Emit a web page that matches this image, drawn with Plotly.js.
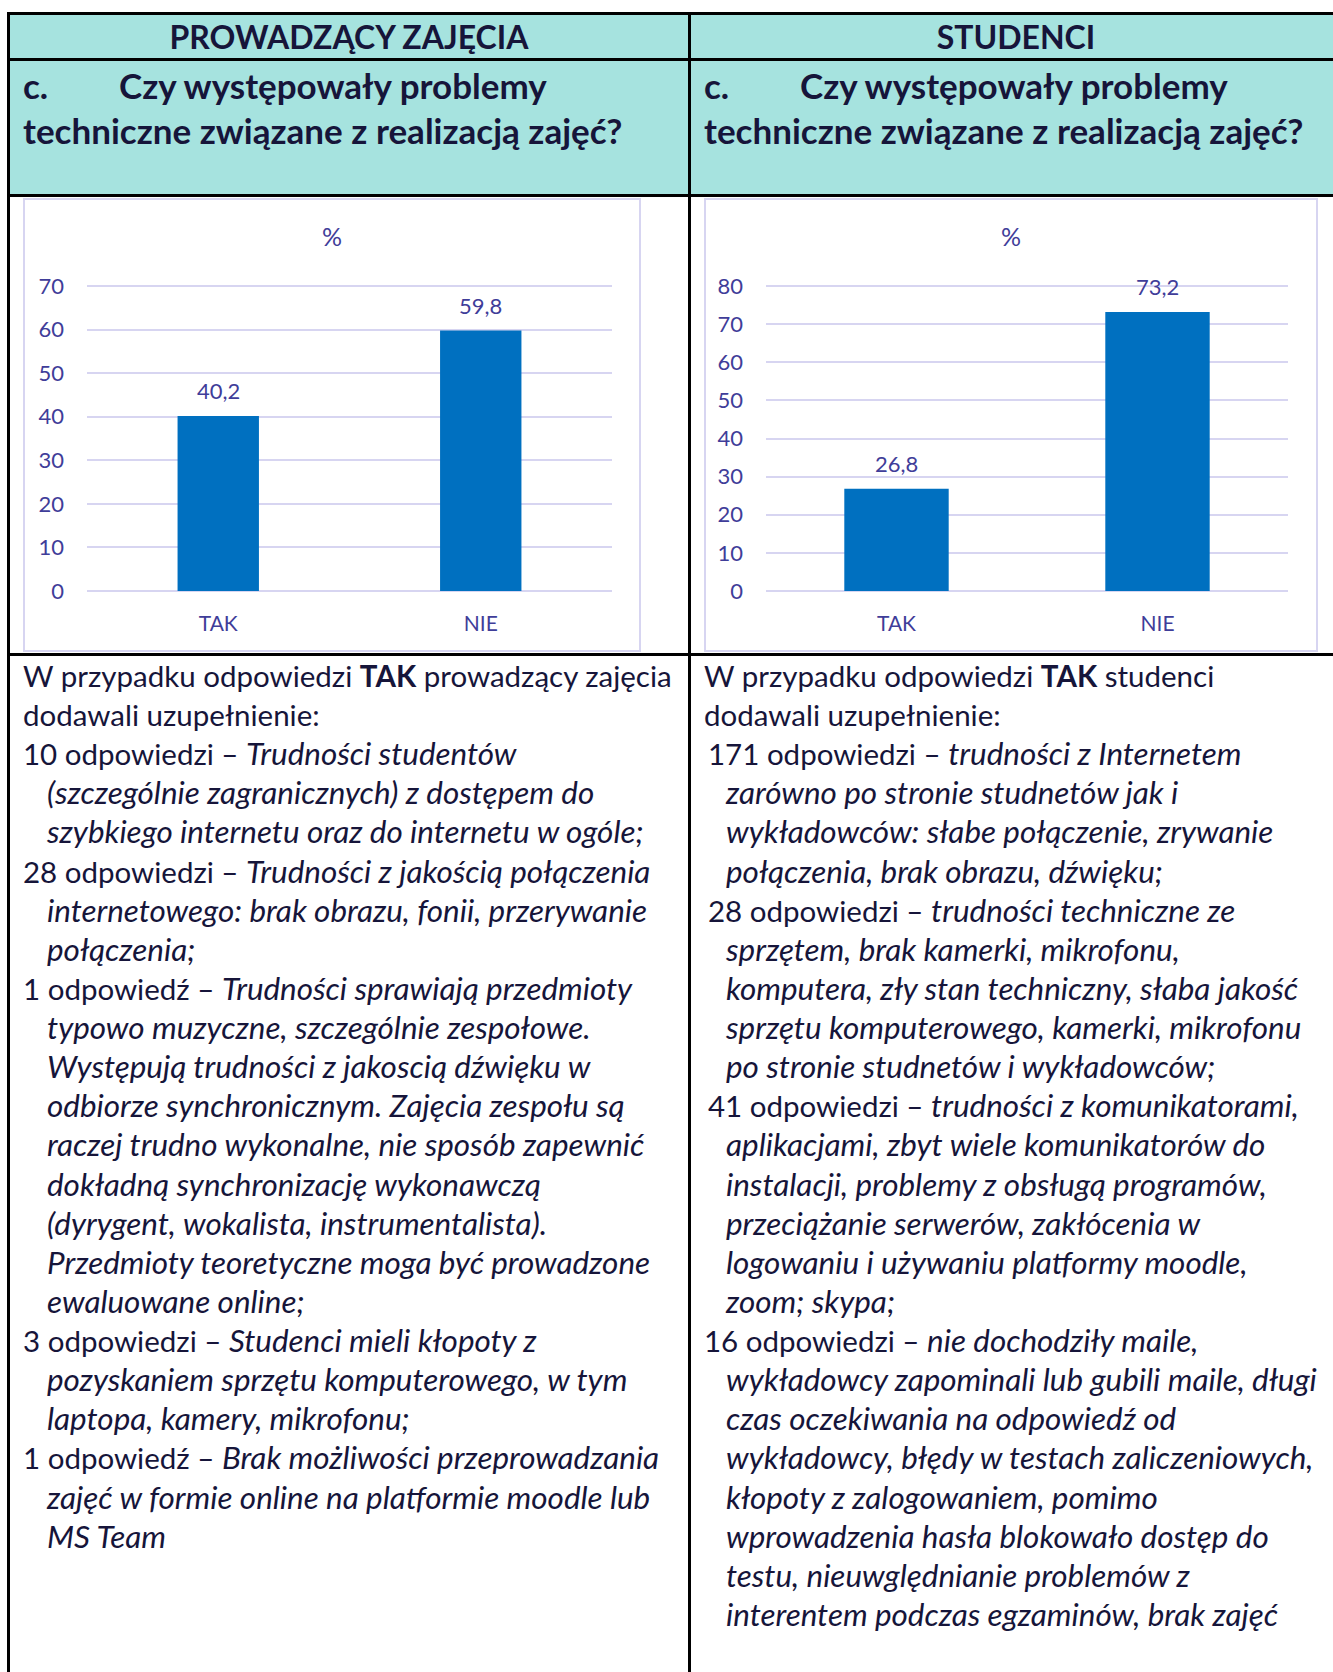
<!DOCTYPE html>
<html>
<head>
<meta charset="utf-8">
<script src="https://cdn.plot.ly/plotly-3.0.1.min.js"></script>
<style>
  html, body { margin:0; padding:0; background:#ffffff; }
  #page { position:relative; width:1333px; height:1672px; overflow:hidden; background:#ffffff; font-family: Lato, "Noto Sans", sans-serif; }
  .fill { position:absolute; background:#A6E3DF; }
  .rule { position:absolute; background:#000000; }
  .box { position:absolute; box-sizing:border-box; border:2px solid #D7D5F1; pointer-events:none; }
  .chart { position:absolute; }
  .line { position:absolute; white-space:nowrap; color:#16153A; line-height:1; transform:translateY(-50%); }
  .body { font-size:29.5px; }
  .head { font-size:32px; font-weight:700; }
  .quest { font-size:35px; font-weight:700; }
  .it { font-style:italic; font-size:31.4px; }
  .b { font-weight:700; }
</style>
</head>
<body>
<div id="page">
  <div class="fill" style="left:8px; top:13px; width:1325px; height:183px;"></div>

  <div class="rule" style="left:7px; top:12px; width:1326px; height:3px;"></div>
  <div class="rule" style="left:7px; top:58px; width:1326px; height:3px;"></div>
  <div class="rule" style="left:7px; top:194px; width:1326px; height:3px;"></div>
  <div class="rule" style="left:7px; top:653px; width:1326px; height:3px;"></div>
  <div class="rule" style="left:7px; top:12px; width:3px; height:1660px;"></div>
  <div class="rule" style="left:688px; top:12px; width:3px; height:1660px;"></div>

  <div id="chartA" class="chart" style="left:23px; top:198px; width:618px; height:454px;"></div>
  <div class="box" style="left:23px; top:198px; width:618px; height:454px;"></div>
  <div id="chartB" class="chart" style="left:704px; top:198px; width:614px; height:454px;"></div>
  <div class="box" style="left:704px; top:198px; width:614px; height:454px;"></div>

  <div id="texts"></div>
</div>

<script>
// ---------------- DATA ----------------
const categories = ['TAK', 'NIE'];
const teacherValues = [40.2, 59.8];
const studentValues = [26.8, 73.2];
const teacherTicks = [0, 10, 20, 30, 40, 50, 60, 70];
const studentTicks = [0, 10, 20, 30, 40, 50, 60, 70, 80];
const chartTitle = '%';

const headerLeft = 'PROWADZĄCY ZAJĘCIA';
const headerRight = 'STUDENCI';
const questionMarker = 'c.';
const questionLine1 = 'Czy występowały problemy';
const questionLine2 = 'techniczne związane z realizacją zajęć?';

// each line: [indentLevel, normal prefix, bold part, normal part, italic part]
const teacherLines = [
  [0, 'W przypadku odpowiedzi ', 'TAK', ' prowadzący zajęcia', ''],
  [0, 'dodawali uzupełnienie:', '', '', ''],
  [0, '10 odpowiedzi –  ', '', '', 'Trudności studentów'],
  [1, '', '', '', '(szczególnie zagranicznych) z dostępem do'],
  [1, '', '', '', 'szybkiego internetu oraz do internetu w ogóle;'],
  [0, '28 odpowiedzi –  ', '', '', 'Trudności z jakością połączenia'],
  [1, '', '', '', 'internetowego: brak obrazu, fonii, przerywanie'],
  [1, '', '', '', 'połączenia;'],
  [0, '1 odpowiedź –  ', '', '', 'Trudności sprawiają przedmioty'],
  [1, '', '', '', 'typowo muzyczne, szczególnie zespołowe.'],
  [1, '', '', '', 'Występują trudności z jakoscią dźwięku w'],
  [1, '', '', '', 'odbiorze synchronicznym. Zajęcia zespołu są'],
  [1, '', '', '', 'raczej trudno wykonalne, nie sposób zapewnić'],
  [1, '', '', '', 'dokładną synchronizację wykonawczą'],
  [1, '', '', '', '(dyrygent, wokalista, instrumentalista).'],
  [1, '', '', '', 'Przedmioty teoretyczne moga być prowadzone'],
  [1, '', '', '', 'ewaluowane online;'],
  [0, '3 odpowiedzi –  ', '', '', 'Studenci mieli kłopoty z'],
  [1, '', '', '', 'pozyskaniem sprzętu komputerowego, w tym'],
  [1, '', '', '', 'laptopa, kamery, mikrofonu;'],
  [0, '1 odpowiedź –  ', '', '', 'Brak możliwości przeprowadzania'],
  [1, '', '', '', 'zajęć w formie online na platformie moodle lub'],
  [1, '', '', '', 'MS Team']
];

const studentLines = [
  [0, 'W przypadku odpowiedzi ', 'TAK', ' studenci', ''],
  [0, 'dodawali uzupełnienie:', '', '', ''],
  [2, '171 odpowiedzi –  ', '', '', 'trudności z Internetem'],
  [1, '', '', '', 'zarówno po stronie studnetów jak i'],
  [1, '', '', '', 'wykładowców: słabe połączenie, zrywanie'],
  [1, '', '', '', 'połączenia, brak obrazu, dźwięku;'],
  [2, '28 odpowiedzi –  ', '', '', 'trudności techniczne ze'],
  [1, '', '', '', 'sprzętem, brak kamerki, mikrofonu,'],
  [1, '', '', '', 'komputera, zły stan techniczny, słaba jakość'],
  [1, '', '', '', 'sprzętu komputerowego, kamerki, mikrofonu'],
  [1, '', '', '', 'po stronie studnetów i wykładowców;'],
  [2, '41 odpowiedzi –  ', '', '', 'trudności z komunikatorami,'],
  [1, '', '', '', 'aplikacjami, zbyt wiele komunikatorów do'],
  [1, '', '', '', 'instalacji, problemy z obsługą programów,'],
  [1, '', '', '', 'przeciążanie serwerów, zakłócenia w'],
  [1, '', '', '', 'logowaniu i używaniu platformy moodle,'],
  [1, '', '', '', 'zoom; skypa;'],
  [0, '16 odpowiedzi –  ', '', '', 'nie dochodziły maile,'],
  [1, '', '', '', 'wykładowcy zapominali lub gubili maile, długi'],
  [1, '', '', '', 'czas oczekiwania na odpowiedź od'],
  [1, '', '', '', 'wykładowcy, błędy w testach zaliczeniowych,'],
  [1, '', '', '', 'kłopoty z zalogowaniem, pomimo'],
  [1, '', '', '', 'wprowadzenia hasła blokowało dostęp do'],
  [1, '', '', '', 'testu, nieuwględnianie problemów z'],
  [1, '', '', '', 'interentem podczas egzaminów, brak zajęć']
];

// ---------------- TEXT LAYOUT ----------------
const textHost = document.getElementById('texts');
function esc(s) { return s.replace(/&/g,'&amp;').replace(/</g,'&lt;'); }
function addLine(cls, x, y, html, extra) {
  const d = document.createElement('div');
  d.className = 'line ' + cls;
  d.style.left = x + 'px';
  d.style.top = y + 'px';
  if (extra) Object.assign(d.style, extra);
  d.innerHTML = html;
  textHost.appendChild(d);
  return d;
}
// headers
addLine('head', 349, 37, esc(headerLeft), {transform:'translate(-50%,-50%)'});
addLine('head', 1016, 37, esc(headerRight), {transform:'translate(-50%,-50%)'});
[[23, 119], [704, 800]].forEach(function (p) {
  addLine('quest', p[0], 85, esc(questionMarker));
  addLine('quest', p[1], 85, esc(questionLine1));
  addLine('quest', p[0], 130, esc(questionLine2));
});

function addBody(lines, xs) {
  const y0 = 676, step = 39.12;
  lines.forEach(function (l, i) {
    let html = '';
    if (l[1]) html += esc(l[1]);
    if (l[2]) html += '<span class="b">' + esc(l[2]) + '</span>';
    if (l[3]) html += esc(l[3]);
    if (l[4]) html += '<span class="it">' + esc(l[4]) + '</span>';
    addLine('body', xs[l[0]], y0 + i * step, html);
  });
}
addBody(teacherLines, [23, 47, 23]);
addBody(studentLines, [704, 726, 708]);

// ---------------- CHARTS ----------------
const axisColor = '#3F3D99';
const gridColor = '#D7D5F1';
const barColor = '#0070C0';
const fmt = v => v.toFixed(1).replace('.', ',');

function makeChart(id, values, ticks, barWidth, margin) {
  const top = ticks[ticks.length - 1];
  const rangeTop = top * 1.02;           // small headroom so the top gridline is drawn
  const zeroY = 393, gridSpan = 305;     // pixel position of 0 and span from 0 to top tick
  const plotH = gridSpan * rangeTop / top;
  const trace = {
    type: 'bar',
    x: categories,
    y: values,
    width: values.map(() => barWidth),
    marker: { color: barColor },
    hoverinfo: 'none'
  };
  const annotations = categories.map((c, i) => ({
    x: c, y: values[i], xref: 'x', yref: 'y',
    text: fmt(values[i]), showarrow: false,
    yanchor: 'bottom', yshift: 10,
    font: { family: 'Lato, sans-serif', size: 22, color: axisColor }
  }));
  const layout = {
    width: margin.w, height: 454,
    margin: { l: margin.l, r: margin.r, t: zeroY - plotH, b: 454 - zeroY, pad: 0 },
    paper_bgcolor: 'rgba(0,0,0,0)',
    plot_bgcolor: 'rgba(0,0,0,0)',
    showlegend: false,
    separators: ', ',
    font: { family: 'Lato, sans-serif', size: 22, color: axisColor },
    title: { text: chartTitle, x: 0.5, xanchor: 'center', xref: 'container', y: 1 - 39 / 454, yref: 'container', yanchor: 'middle',
             font: { family: 'Lato, sans-serif', size: 25, color: axisColor } },
    xaxis: {
      type: 'category', showgrid: false, zeroline: false, showline: false,
      ticks: '', ticklabelstandoff: 18,
      tickfont: { family: 'Lato, sans-serif', size: 21, color: axisColor }
    },
    yaxis: {
      range: [0, rangeTop], tickvals: ticks, ticktext: ticks.map(String),
      showgrid: true, gridcolor: gridColor, gridwidth: 2,
      zeroline: true, zerolinecolor: gridColor, zerolinewidth: 2,
      showline: false, ticks: '', ticklabelstandoff: 22,
      tickfont: { family: 'Lato, sans-serif', size: 22, color: axisColor }
    },
    annotations: annotations
  };
  Plotly.newPlot(id, [trace], layout, { staticPlot: true, displayModeBar: false });
}

makeChart('chartA', teacherValues, teacherTicks, 0.31, { l: 64, r: 29, w: 618 });
makeChart('chartB', studentValues, studentTicks, 0.40, { l: 62, r: 30, w: 614 });
</script>
</body>
</html>
